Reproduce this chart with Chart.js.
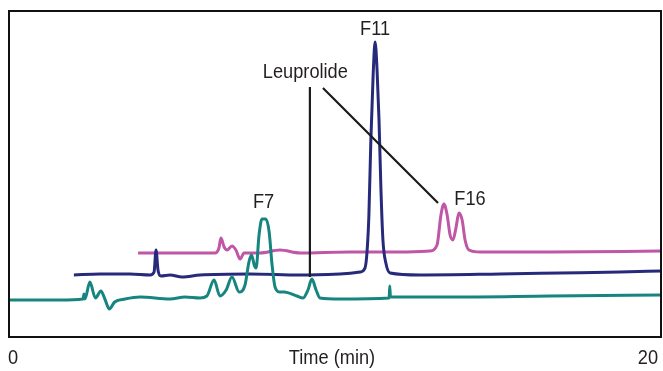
<!DOCTYPE html>
<html>
<head>
<meta charset="utf-8">
<script src="https://cdn.jsdelivr.net/npm/chart.js@4/dist/chart.umd.min.js"></script>
<style>
  body { margin: 0; background: #fff; }
  #wrap { width: 663px; height: 371px; position: relative; }
</style>
</head>
<body>
<div id="wrap"><canvas id="chromatogram"></canvas></div>
<script>
// retention time (min) / detector signal (arbitrary units)
const tealTime   = [0, 1.56, 2.27, 2.30, 2.33, 2.48, 2.65, 2.82, 2.94, 3.08, 3.24, 3.56, 4.02, 4.94, 5.40, 5.86, 6.07, 6.29, 6.47, 6.66, 6.84, 7.06, 7.24, 7.36, 7.44, 7.53, 7.58, 7.67, 7.76, 7.88, 7.98, 8.07, 8.16, 8.31, 8.44, 8.83, 9.02, 9.17, 9.29, 9.42, 9.54, 10.15, 11.66, 11.68, 11.70, 13.53, 16.60, 20];
const tealSignal = [37, 37, 38, 43, 38, 55, 39, 46, 38, 28, 35, 38, 40, 38, 40, 39, 41, 57, 41, 47, 60, 45, 52, 75, 82, 71, 69, 102, 118, 118, 105, 72, 50, 45, 45, 41, 39, 47, 58, 47, 39, 38, 39, 51, 40, 40, 41, 42];

const navyTime   = [1.99, 2.79, 3.71, 4.33, 4.45, 4.51, 4.57, 4.66, 4.94, 5.31, 5.86, 7.39, 8.93, 10.15, 10.77, 10.92, 10.98, 11.04, 11.10, 11.17, 11.23, 11.29, 11.35, 11.41, 11.47, 11.56, 11.69, 12.61, 15.06, 16.90, 18.74, 20];
const navySignal = [62, 63, 63, 62, 65, 87, 67, 61, 62, 60, 62, 63, 62, 63, 65, 69, 84, 122, 197, 262, 295, 267, 217, 147, 97, 74, 64, 62, 63, 64, 65, 66];

const magentaTime   = [3.96, 5.25, 6.32, 6.44, 6.50, 6.60, 6.69, 6.84, 6.96, 7.09, 7.21, 7.70, 8.31, 8.93, 10.46, 11.99, 12.91, 13.13, 13.25, 13.34, 13.44, 13.53, 13.62, 13.71, 13.80, 13.90, 13.99, 14.11, 14.45, 16.60, 20];
const magentaSignal = [84, 84, 84, 89, 99, 90, 87, 91, 87, 78, 84, 84, 87, 84, 85, 85, 86, 92, 122, 133, 122, 102, 97, 109, 124, 117, 97, 87, 85, 85, 86];

const xTicks = [0, 20];
const xTitle = 'Time (min)';

const peakNames = ['F7', 'Leuprolide', 'F11', 'F16'];
const peakTextAt = [[7.81, 129], [9.09, 259], [11.23, 302], [14.14, 132]];
// leader lines from the Leuprolide label
const leaders = [
  [[9.23, 250], [9.23, 60]],
  [[9.63, 249], [13.16, 134]]
];

const fontFam = "'Liberation Sans', Arial, sans-serif";
const squeeze = 0.91; // the original uses a condensed face

function toPoints(t, s) {
  return t.map((v, i) => ({ x: v, y: s[i] }));
}

function narrowText(ctx, text, px, py, align) {
  ctx.save();
  ctx.translate(px, py);
  ctx.scale(squeeze, 1);
  ctx.textAlign = align;
  ctx.fillText(text, 0, 0);
  ctx.restore();
}

const annotations = {
  id: 'annotations',
  afterDatasetsDraw(chart) {
    const { ctx, chartArea, scales: { x, y } } = chart;
    ctx.save();
    ctx.strokeStyle = '#1b1b1b';
    ctx.lineWidth = 2.2;
    leaders.forEach(l => {
      ctx.beginPath();
      ctx.moveTo(x.getPixelForValue(l[0][0]), y.getPixelForValue(l[0][1]));
      ctx.lineTo(x.getPixelForValue(l[1][0]), y.getPixelForValue(l[1][1]));
      ctx.stroke();
    });

    ctx.fillStyle = '#231f20';
    ctx.font = '20px ' + fontFam;
    ctx.textBaseline = 'alphabetic';
    peakNames.forEach((name, i) => {
      narrowText(ctx, name, x.getPixelForValue(peakTextAt[i][0]), y.getPixelForValue(peakTextAt[i][1]), 'center');
    });

    // axis labels: first at the left edge, last at the right edge, title in the middle
    const base = chartArea.bottom + 27;
    narrowText(ctx, String(xTicks[0]), x.getPixelForValue(xTicks[0]) - 1, base, 'left');
    narrowText(ctx, String(xTicks[1]), x.getPixelForValue(xTicks[1]) - 3, base, 'right');
    narrowText(ctx, xTitle, (x.left + x.right) / 2 - 3, base, 'center');

    // plot frame
    ctx.strokeStyle = '#111';
    ctx.lineWidth = 2;
    ctx.strokeRect(chartArea.left, chartArea.top, chartArea.width, chartArea.height);
    ctx.restore();
  }
};

const ctx = document.getElementById('chromatogram').getContext('2d');
new Chart(ctx, {
  type: 'line',
  data: {
    datasets: [
      { data: toPoints(tealTime, tealSignal), borderColor: '#16857f' },
      { data: toPoints(navyTime, navySignal), borderColor: '#272a7a' },
      { data: toPoints(magentaTime, magentaSignal), borderColor: '#bf56a6' }
    ]
  },
  options: {
    responsive: true,
    maintainAspectRatio: false,
    animation: false,
    layout: { padding: { left: 9, top: 11, right: 2, bottom: 0 } },
    elements: {
      line: { borderWidth: 3, cubicInterpolationMode: 'monotone', fill: false },
      point: { radius: 0 }
    },
    scales: {
      x: {
        type: 'linear',
        min: 0,
        max: 20,
        grid: { display: false, drawTicks: false },
        border: { display: false },
        ticks: { display: false },
        afterFit: s => { s.height = 34; s.paddingLeft = 0; s.paddingRight = 0; }
      },
      y: {
        display: false,
        min: 0,
        max: 326
      }
    },
    plugins: {
      legend: { display: false },
      tooltip: { enabled: false }
    }
  },
  plugins: [annotations]
});
</script>
</body>
</html>
